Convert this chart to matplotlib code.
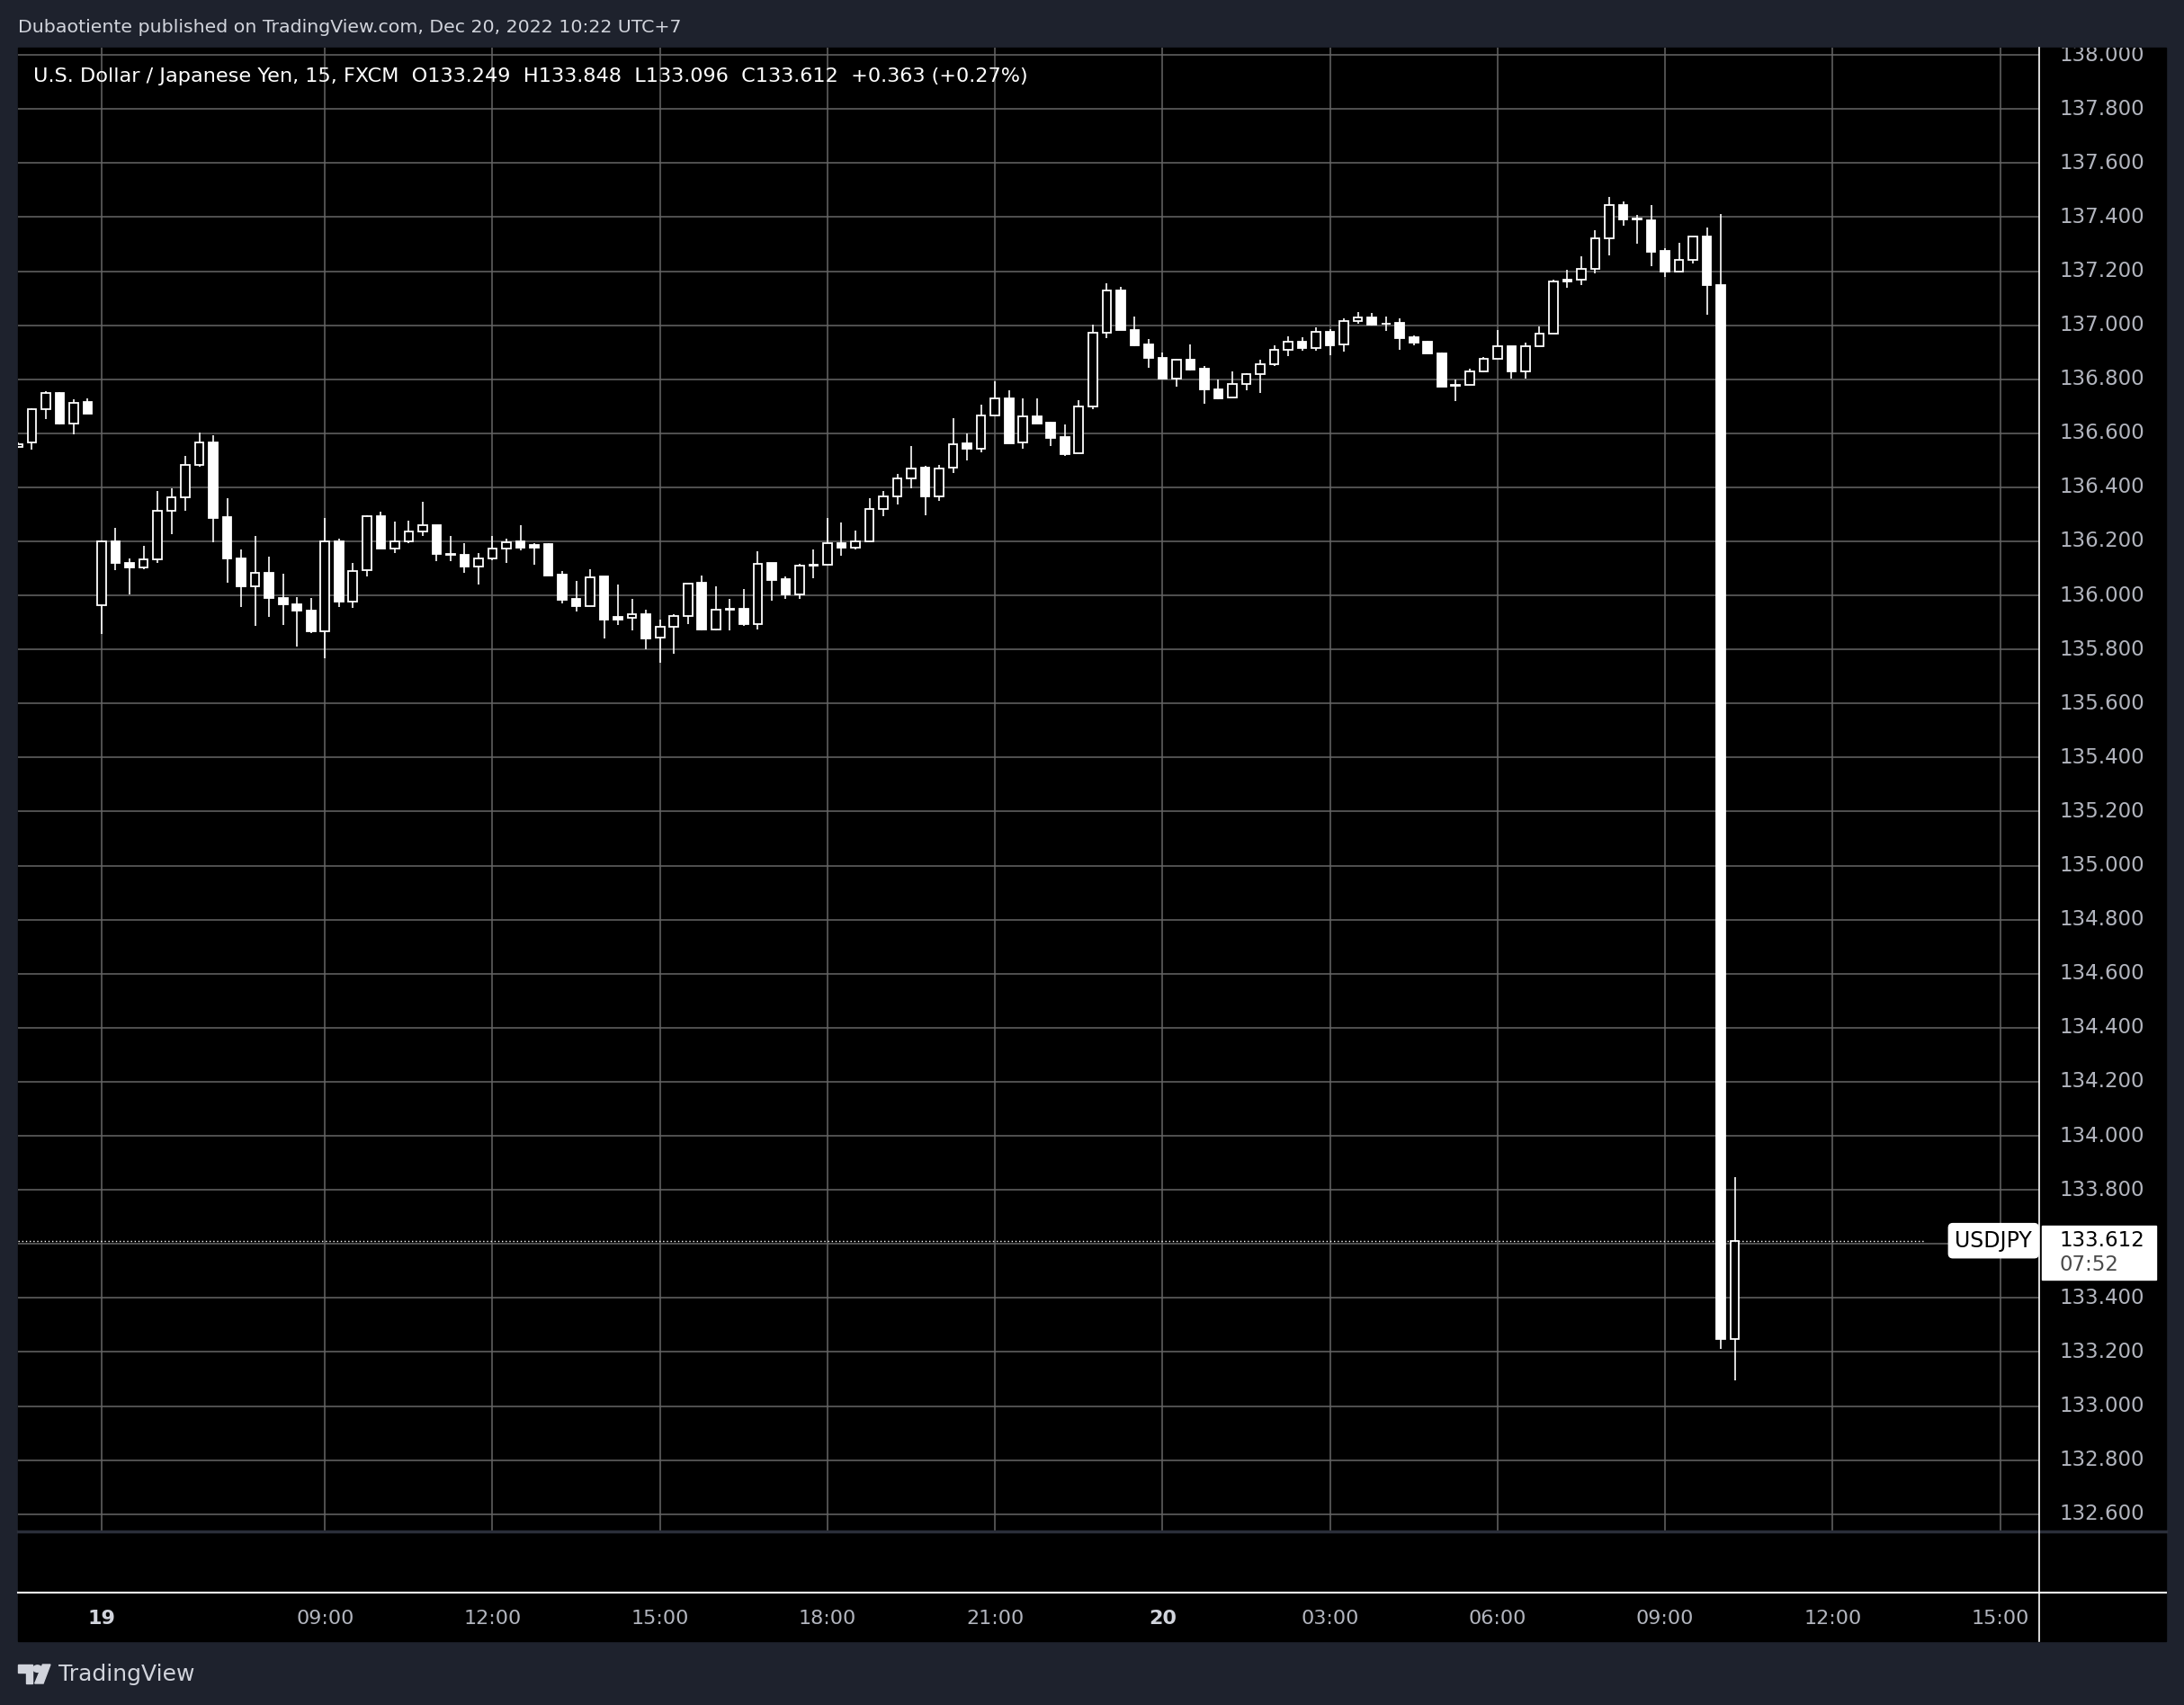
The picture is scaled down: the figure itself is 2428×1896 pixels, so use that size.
import matplotlib
matplotlib.use("Agg")
import matplotlib.pyplot as plt
from matplotlib.patches import Rectangle, Polygon, Circle
from matplotlib.lines import Line2D

# USDJPY 15 min bars (FXCM), bar 0 = Dec 19 05:00 UTC+7
bar_idx = list(range(-6, 118))
opens = [136.550, 136.565, 136.689, 136.750, 136.637, 136.715,
         135.964, 136.200, 136.121, 136.104, 136.134, 136.313, 136.363, 136.484,
         136.566, 136.289, 136.137, 136.033, 136.084, 135.992, 135.967, 135.945,
         135.868, 136.200, 135.977, 136.093, 136.294, 136.174, 136.199, 136.235,
         136.261, 136.152, 136.151, 136.108, 136.138, 136.174, 136.199, 136.188,
         136.189, 136.076, 135.986, 135.960, 136.069, 135.920, 135.918, 135.932,
         135.844, 135.884, 135.924, 136.046, 135.873, 135.952, 135.950, 135.893,
         136.119, 136.059, 136.004, 136.110, 136.114, 136.194, 136.178, 136.201,
         136.321, 136.366, 136.433, 136.474, 136.368, 136.472, 136.562, 136.544,
         136.665, 136.729, 136.565, 136.663, 136.640, 136.586, 136.526, 136.698,
         136.972, 137.128, 136.982, 136.929, 136.879, 136.804, 136.873, 136.840,
         136.762, 136.731, 136.782, 136.818, 136.854, 136.909, 136.940, 136.917,
         136.976, 136.929, 137.014, 137.028, 137.006, 137.008, 136.955, 136.940,
         136.896, 136.775, 136.779, 136.829, 136.875, 136.922, 136.829, 136.922,
         136.968, 137.170, 137.170, 137.210, 137.321, 137.446, 137.393, 137.388,
         137.276, 137.200, 137.241, 137.329, 137.149, 133.249]
highs = [136.565, 136.693, 136.756, 136.752, 136.726, 136.729,
         136.202, 136.250, 136.137, 136.183, 136.387, 136.396, 136.515, 136.602,
         136.592, 136.359, 136.170, 136.221, 136.144, 136.081, 135.994, 135.992,
         136.285, 136.211, 136.121, 136.296, 136.311, 136.274, 136.277, 136.347,
         136.261, 136.221, 136.194, 136.158, 136.221, 136.211, 136.259, 136.192,
         136.194, 136.091, 136.052, 136.096, 136.069, 136.039, 135.986, 135.946,
         135.912, 135.931, 136.044, 136.072, 136.032, 135.986, 136.022, 136.162,
         136.119, 136.069, 136.116, 136.169, 136.286, 136.269, 136.239, 136.359,
         136.387, 136.450, 136.553, 136.479, 136.484, 136.656, 136.600, 136.706,
         136.792, 136.759, 136.729, 136.729, 136.643, 136.633, 136.723, 137.003,
         137.156, 137.141, 137.033, 136.950, 136.900, 136.876, 136.930, 136.850,
         136.799, 136.830, 136.823, 136.873, 136.926, 136.960, 136.956, 136.993,
         136.986, 137.026, 137.047, 137.046, 137.033, 137.026, 136.962, 136.943,
         136.900, 136.800, 136.839, 136.882, 136.982, 136.922, 136.936, 136.996,
         137.168, 137.206, 137.255, 137.352, 137.476, 137.459, 137.409, 137.446,
         137.286, 137.306, 137.328, 137.362, 137.412, 133.848]
lows = [136.545, 136.540, 136.653, 136.634, 136.595, 136.674,
        135.857, 136.094, 136.003, 136.097, 136.119, 136.225, 136.313, 136.476,
        136.197, 136.046, 135.958, 135.887, 135.920, 135.892, 135.810, 135.862,
        135.767, 135.956, 135.953, 136.069, 136.172, 136.158, 136.192, 136.219,
        136.128, 136.128, 136.085, 136.041, 136.131, 136.120, 136.167, 136.113,
        136.073, 135.970, 135.940, 135.960, 135.839, 135.890, 135.872, 135.802,
        135.750, 135.783, 135.893, 135.869, 135.870, 135.869, 135.887, 135.873,
        135.980, 135.986, 135.986, 136.063, 136.112, 136.147, 136.170, 136.201,
        136.294, 136.335, 136.398, 136.295, 136.349, 136.454, 136.498, 136.528,
        136.665, 136.564, 136.544, 136.637, 136.553, 136.515, 136.526, 136.688,
        136.951, 136.981, 136.923, 136.843, 136.800, 136.773, 136.833, 136.710,
        136.727, 136.731, 136.760, 136.748, 136.850, 136.886, 136.906, 136.904,
        136.890, 136.903, 137.006, 136.998, 136.980, 136.910, 136.927, 136.894,
        136.771, 136.718, 136.779, 136.825, 136.875, 136.804, 136.801, 136.922,
        136.968, 137.137, 137.147, 137.193, 137.257, 137.367, 137.303, 137.219,
        137.177, 137.200, 137.227, 137.040, 133.212, 133.096]
closes = [136.560, 136.689, 136.748, 136.636, 136.714, 136.674,
          136.200, 136.119, 136.104, 136.134, 136.313, 136.363, 136.484, 136.565,
          136.288, 136.136, 136.033, 136.084, 135.989, 135.966, 135.943, 135.867,
          136.199, 135.976, 136.091, 136.293, 136.172, 136.199, 136.235, 136.260,
          136.152, 136.150, 136.108, 136.138, 136.173, 136.198, 136.177, 136.177,
          136.073, 135.983, 135.960, 136.068, 135.910, 135.910, 135.931, 135.842,
          135.884, 135.924, 136.044, 135.873, 135.948, 135.946, 135.893, 136.118,
          136.056, 136.002, 136.109, 136.112, 136.194, 136.178, 136.201, 136.321,
          136.368, 136.433, 136.471, 136.368, 136.471, 136.561, 136.544, 136.665,
          136.728, 136.564, 136.662, 136.637, 136.584, 136.524, 136.698, 136.972,
          137.128, 136.981, 136.926, 136.878, 136.803, 136.871, 136.837, 136.761,
          136.730, 136.782, 136.819, 136.855, 136.909, 136.940, 136.917, 136.975,
          136.926, 137.015, 137.028, 137.003, 137.004, 136.953, 136.937, 136.894,
          136.771, 136.777, 136.829, 136.875, 136.921, 136.829, 136.922, 136.968,
          137.161, 137.161, 137.210, 137.321, 137.443, 137.393, 137.391, 137.273,
          137.200, 137.241, 137.328, 137.147, 133.249, 133.612]

price_ticks = [132.6, 132.8, 133.0, 133.2, 133.4, 133.6, 133.8, 134.0, 134.2,
               134.4, 134.6, 134.8, 135.0, 135.2, 135.4, 135.6, 135.8, 136.0,
               136.2, 136.4, 136.6, 136.8, 137.0, 137.2, 137.4, 137.6, 137.8, 138.0]
time_ticks = [0, 16, 28, 40, 52, 64, 76, 88, 100, 112, 124, 136]
time_labels = ["19", "09:00", "12:00", "15:00", "18:00", "21:00",
               "20", "03:00", "06:00", "09:00", "12:00", "15:00"]
day_labels = ["19", "20"]

title = "Dubaotiente published on TradingView.com, Dec 20, 2022 10:22 UTC+7"
legend = ("U.S. Dollar / Japanese Yen, 15, FXCM  O133.249  H133.848  "
          "L133.096  C133.612  +0.363 (+0.27%)")

W, H = 2428, 1896
BG = "#1e222d"
GRID = "#666666"
AXTXT = "#b2b5be"


def fx(px):
    return px / W


def fy(py):
    return 1 - py / H


fig = plt.figure(figsize=(W / 100, H / 100), dpi=100, facecolor=BG)
plt.rcParams["font.family"] = ["DejaVu Sans"]

# black chart block
fig.add_artist(Rectangle((fx(20), fy(1825)), fx(2408) - fx(20), fy(53) - fy(1825),
                         transform=fig.transFigure, color="black", zorder=0))

xl = (-5.99, 138.8)
yl = (132.536, 138.027)

ax = fig.add_axes([fx(20), fy(1703), fx(2267) - fx(20), fy(53) - fy(1703)])
ax.set_facecolor("black")
ax.set_xlim(*xl)
ax.set_ylim(*yl)
for s in ax.spines.values():
    s.set_visible(False)
ax.set_xticks([])
ax.set_yticks([])

# grid
ax.hlines(price_ticks, xl[0], xl[1], color=GRID, lw=1.1, zorder=1)
ax.vlines(time_ticks, yl[0], yl[1], color=GRID, lw=1.1, zorder=1)

# candles
ax.vlines(bar_idx, lows, highs, color="white", lw=1.2, zorder=2)
up_x, up_b, up_h, dn_x, dn_b, dn_h = [], [], [], [], [], []
for i, o, c in zip(bar_idx, opens, closes):
    b = min(o, c)
    h = max(abs(c - o), 0.003)
    if c >= o:
        up_x.append(i); up_b.append(b); up_h.append(h)
    else:
        dn_x.append(i); dn_b.append(b); dn_h.append(h)
ax.bar(up_x, up_h, bottom=up_b, width=0.62, facecolor="black",
       edgecolor="white", linewidth=1.3, zorder=3)
ax.bar(dn_x, dn_h, bottom=dn_b, width=0.62, facecolor="white",
       edgecolor="white", linewidth=1.3, zorder=3)

# last price line + symbol tag
last = closes[-1]
ytr = ax.get_yaxis_transform()
ax.plot([0, 0.943], [last, last], transform=ytr, color="white", lw=1.0,
        ls=(0, (1, 2)), zorder=4)
ax.text(0.9965, last, "USDJPY", transform=ytr, ha="right", va="center",
        fontsize=17, color="black", zorder=6,
        bbox=dict(boxstyle="round,pad=0.3,rounding_size=0.2", fc="white", ec="white"))

# price axis
pax = fig.add_axes([fx(2267), fy(1703), fx(2408) - fx(2267), fy(53) - fy(1703)])
pax.set_facecolor("black")
pax.set_ylim(*yl)
pax.set_xlim(0, 1)
pax.axis("off")
for p in price_ticks:
    if abs(p - last) < 0.1:
        continue
    pax.text(0.16, p, f"{p:.3f}", ha="left", va="center", fontsize=16.5,
             color=AXTXT, clip_on=True)
ptr = pax.get_yaxis_transform()
pax.add_patch(Rectangle((0.02, last - 0.145), 0.9, 0.2, transform=ptr,
                        fc="white", ec="white", zorder=5))
pax.text(0.16, last, f"{last:.3f}", ha="left", va="center", fontsize=16.5,
         color="black", zorder=6)
pax.text(0.16, last - 0.088, "07:52", ha="left", va="center", fontsize=16.5,
         color="#4a4a4a", zorder=6)

# time axis
tax = fig.add_axes([fx(20), fy(1825), fx(2267) - fx(20), fy(1771) - fy(1825)])
tax.set_facecolor("black")
tax.set_xlim(*xl)
tax.set_ylim(0, 1)
tax.axis("off")
for t, lab in zip(time_ticks, time_labels):
    bold = lab in day_labels
    tax.text(t, 0.47, lab, ha="center", va="center", fontsize=16,
             color="#d1d4dc" if bold else AXTXT,
             fontweight="bold" if bold else "normal")

# separators
fig.add_artist(Line2D([fx(20), fx(2408)], [fy(1703), fy(1703)], color="#2a2e39", lw=2.5))
fig.add_artist(Line2D([fx(20), fx(2408)], [fy(1771), fy(1771)], color="white", lw=1.5))
fig.add_artist(Line2D([fx(2267), fx(2267)], [fy(53), fy(1825)], color="white", lw=1.2))

# header texts
fig.text(fx(20), fy(31), title, ha="left", va="center", fontsize=14.75, color="#d1d4dc")
fig.text(fx(37), fy(85), legend, ha="left", va="center", fontsize=16.1, color="white")

# footer logo
lx, ly, lw_, lh = 20, 1851, 36, 21
def lp(u, v):
    return (fx(lx + u * lw_), fy(ly + v * lh))
fig.add_artist(Polygon([lp(0, 0), lp(0.45, 0), lp(0.45, 1), lp(0.26, 1),
                        lp(0.26, 0.42), lp(0, 0.42)], closed=True,
                       transform=fig.transFigure, color="#d1d4dc"))
fig.add_artist(Circle(lp(0.6, 0.22), 0.18 * lh / H, transform=fig.transFigure,
                      color="#d1d4dc"))
fig.add_artist(Polygon([lp(0.76, 0), lp(1.0, 0), lp(0.78, 1), lp(0.52, 1)],
                       closed=True, transform=fig.transFigure, color="#d1d4dc"))
fig.text(fx(65), fy(1862), "TradingView", ha="left", va="center", fontsize=18,
         color="#d1d4dc")

fig.savefig("out.png", dpi=100, facecolor=BG)
